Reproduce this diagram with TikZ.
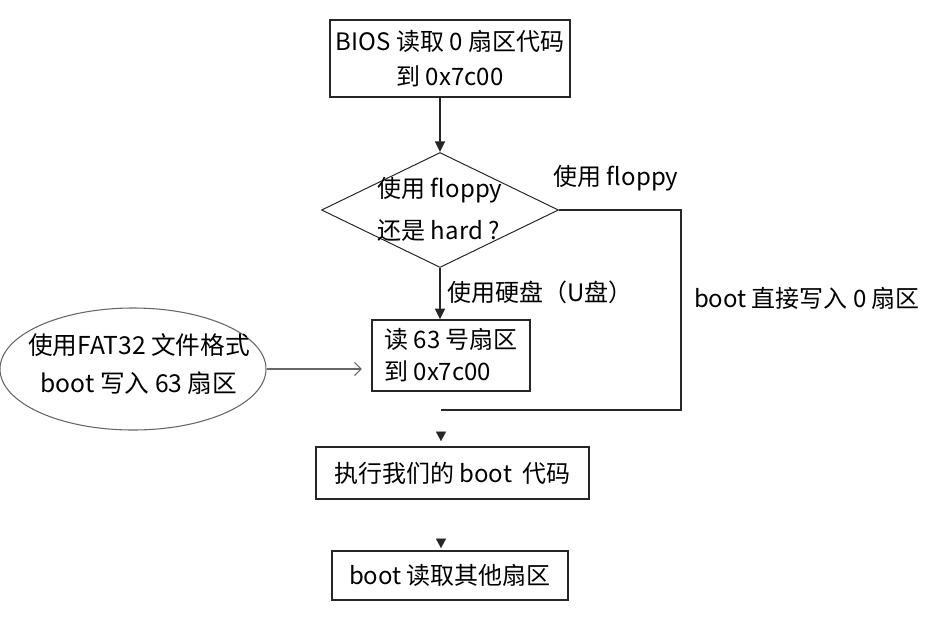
\documentclass[tikz,border=0pt]{standalone}
\usepackage{fontspec}
\setmainfont{Noto Sans CJK SC}
\usetikzlibrary{arrows.meta,shapes.geometric}
\begin{document}
\begin{tikzpicture}[x=0.75pt,y=-0.75pt,
  every node/.style={font=\fontsize{18}{26}\selectfont, text=black},
  box/.style={draw=black!85, line width=1.1pt, inner sep=0pt},
  conn/.style={draw=black!85, line width=1.1pt},
  arr/.style={conn, -{Triangle[length=8pt,width=7.5pt]}},
  tip/.style={draw=black!85, line width=0.01pt, -{Triangle[length=7pt,width=7.5pt]}},
  lbl/.style={inner sep=0pt},
]
\useasboundingbox (0,0) rectangle (946,626);

\node[box, minimum width=180pt, minimum height=57.75pt, align=center,
      font=\fontsize{18}{26}\selectfont] (b1) at (450,58.5) {BIOS 读取 0 扇区代码\\到 0x7c00};

\node[draw=black!85, line width=0.75pt, diamond, inner sep=0pt,
      minimum width=177.75pt, minimum height=86.25pt] (dia) at (440,210) {};
\node[lbl, align=left, font=\fontsize{18}{31.5}\selectfont] (diat) at (440,209) {使用 floppy\\还是 hard ?};

\node[box, minimum width=118.5pt, minimum height=53.25pt, align=left,
      font=\fontsize{18}{24}\selectfont] (b2) at (451,355.5) {读 63 号扇区\\到 0x7c00};

\node[draw=black!60, line width=0.8pt, ellipse, inner sep=0pt,
      minimum width=199.5pt, minimum height=91.5pt] (ell) at (133,369) {};
\node[lbl, align=center, font=\fontsize{18.5}{28.5}\selectfont] (ellt) at (139,364) {使用FAT32 文件格式\\boot 写入 63 扇区};

\node[box, minimum width=204.75pt, minimum height=39pt] (b3) at (452.5,473) {执行我们的 boot\ \ 代码};
\node[box, minimum width=177pt, minimum height=36.75pt] (b4) at (450,575.5) {boot 读取其他扇区};

\node[lbl] (lf) at (616,178) {使用 floppy};
\node[lbl] (lh) at (540,292) {使用硬盘（U盘）};
\node[lbl] (lb) at (807,298) {boot 直接写入 0 扇区};

\draw[arr] (b1.south -| dia.north) -- (dia.north);
\draw[arr] (dia.south) -- (dia.south |- b2.north);
\draw[draw=black!60, line width=0.8pt, -{Straight Barb[length=5pt,width=10pt]}, shorten >=7pt] (ell.east) -- (ell.east -| b2.west);

\coordinate (corner) at (681,410);
\coordinate (merge) at (441,410);
\draw[conn] (dia.east) -| (corner) -- (merge);

\coordinate (t1a) at (441,431.5);
\coordinate (t1b) at (441,441);
\draw[tip] (t1a) -- (t1b);
\coordinate (t2a) at (441,538.5);
\coordinate (t2b) at (441,548);
\draw[tip] (t2a) -- (t2b);
\end{tikzpicture}
\end{document}
